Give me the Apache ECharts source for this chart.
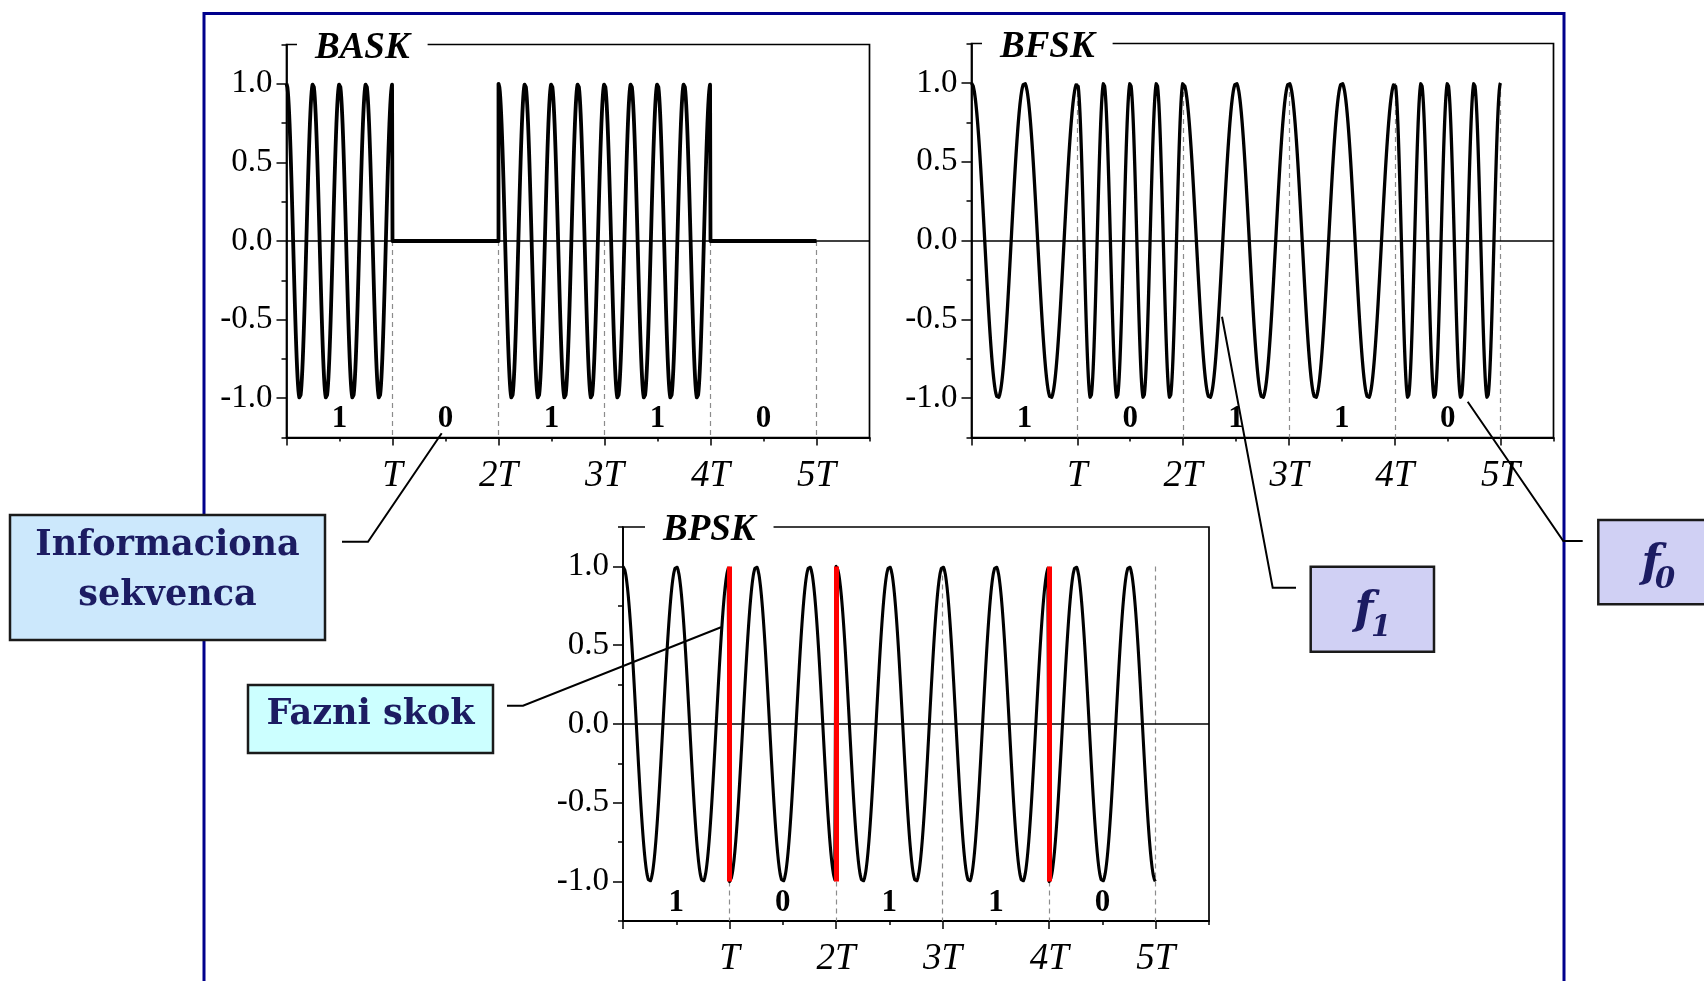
<!DOCTYPE html>
<html>
<head>
<meta charset="utf-8">
<title>BASK / BFSK / BPSK</title>
<script src="https://cdn.jsdelivr.net/npm/echarts@6/dist/echarts.min.js"></script>
<style>
  html, body { margin: 0; padding: 0; background: #fff; }
  #chart { width: 1704px; height: 981px; }
</style>
</head>
<body>
<div id="chart"></div>
<script>
// Information sequence sent in every panel, one value per bit interval T
const bits = [1, 0, 1, 1, 0];

// Time axis (in units of the bit interval T)
const periodTicks = [1, 2, 3, 4, 5];
const periodLabels = ['T', '2T', '3T', '4T', '5T'];
const halfPeriodTicks = [0.5, 1.5, 2.5, 3.5, 4.5, 5.5];

// Amplitude axis
const amplitudeTicks = [-1, -0.5, 0, 0.5, 1];
const amplitudeMinorTicks = [-1.25, -0.75, -0.25, 0.25, 0.75, 1.25];

// Carrier cycles per bit interval, indexed by the bit value [0, 1]
const askCyclesPerBit = [0, 4];
const fskCyclesPerBit = [4, 2];
const pskCyclesPerBit = [2, 2];
const pskPhaseSign = [-1, 1];

// Height at which the bit values are written inside each panel
const bitLabelLevel = -1.135;

// Drawing resolution of the carrier
const samplesPerBit = 240;

const SERIF = '"Liberation Serif", "Times New Roman", serif';
const CALLOUT_FONT = '"DejaVu Serif", serif';
const CALLOUT_INK = '#1c1c62';

function buildWave(valueAt) {
  const pts = [];
  bits.forEach((b, k) => {
    for (let j = 0; j <= samplesPerBit; j++) {
      const u = j / samplesPerBit;
      pts.push([k + u, valueAt(b, k + u, u)]);
    }
  });
  return pts;
}

const askWave = buildWave((b, t) => b ? Math.cos(2 * Math.PI * askCyclesPerBit[b] * t) : 0);
const fskWave = buildWave((b, t, u) => Math.cos(2 * Math.PI * fskCyclesPerBit[b] * u));
const pskWave = buildWave((b, t) => pskPhaseSign[b] * Math.cos(2 * Math.PI * pskCyclesPerBit[b] * t));

// Phase jumps of BPSK: wherever the bit changes
const pskJumps = [];
bits.forEach((b, k) => {
  if (k > 0 && b !== bits[k - 1]) {
    const before = pskPhaseSign[bits[k - 1]] * Math.cos(2 * Math.PI * pskCyclesPerBit[bits[k - 1]] * k);
    const after = pskPhaseSign[b] * Math.cos(2 * Math.PI * pskCyclesPerBit[b] * k);
    pskJumps.push({ coords: [[k, before], [k, after]] });
  }
});

const bitLabels = bits.map((b, k) => [k + 0.5, bitLabelLevel, b]);

function guideLines(fromLevel) {
  return periodTicks.map(p => ({ coords: [[p, fromLevel], [p, -1.25]] }));
}

const panels = [
  { name: 'BASK', grid: { left: 286.5, top: 44.5, width: 583, height: 393 }, wave: askWave, width: 3.8, guideFrom: 0, titleLeft: 297, titleTop: 29 },
  { name: 'BFSK', grid: { left: 971.5, top: 43.5, width: 582, height: 394 }, wave: fskWave, width: 3.3, guideFrom: 1, titleLeft: 982, titleTop: 28 },
  { name: 'BPSK', grid: { left: 623, top: 527, width: 586, height: 394 }, wave: pskWave, width: 3.1, guideFrom: 1, titleLeft: 645, titleTop: 511 }
];

const grids = [], xAxes = [], yAxes = [], series = [], titles = [];

panels.forEach((p, gi) => {
  grids.push(Object.assign({
    show: true, borderColor: '#000', borderWidth: 1.7, backgroundColor: 'transparent',
    containLabel: false, outerBoundsMode: 'none'
  }, p.grid));

  const xMajor = xAxes.length;
  xAxes.push({
    gridIndex: gi, type: 'value', min: 0, max: 5.5, position: 'bottom',
    axisLine: { show: true, onZero: false, lineStyle: { color: '#000', width: 2 } },
    axisTick: { show: true, customValues: [0].concat(periodTicks), length: 8, lineStyle: { color: '#000', width: 1.5 } },
    axisLabel: {
      show: true, customValues: periodTicks, margin: 20,
      formatter: v => periodLabels[periodTicks.indexOf(v)] || '',
      color: '#000', fontFamily: SERIF, fontStyle: 'italic', fontSize: 37
    },
    splitLine: { show: false }
  });
  xAxes.push({
    gridIndex: gi, type: 'value', min: 0, max: 5.5, position: 'bottom',
    axisLine: { show: false, onZero: false },
    axisTick: { show: true, customValues: halfPeriodTicks, length: 4, lineStyle: { color: '#000', width: 1.5 } },
    axisLabel: { show: false },
    splitLine: { show: false }
  });

  const yMajor = yAxes.length;
  yAxes.push({
    gridIndex: gi, type: 'value', min: -1.25, max: 1.25, position: 'left',
    axisLine: { show: true, onZero: false, lineStyle: { color: '#000', width: 1.7 } },
    axisTick: { show: true, customValues: amplitudeTicks, length: 10, lineStyle: { color: '#000', width: 1.5 } },
    axisLabel: {
      show: true, customValues: amplitudeTicks, margin: 14,
      formatter: v => v.toFixed(1),
      color: '#000', fontFamily: SERIF, fontSize: 33
    },
    splitLine: { show: false }
  });
  yAxes.push({
    gridIndex: gi, type: 'value', min: -1.25, max: 1.25, position: 'left',
    axisLine: { show: false, onZero: false },
    axisTick: { show: true, customValues: amplitudeMinorTicks, length: 5, lineStyle: { color: '#000', width: 1.5 } },
    axisLabel: { show: false },
    splitLine: { show: false }
  });

  // dashed bit boundaries
  series.push({
    type: 'lines', coordinateSystem: 'cartesian2d', xAxisIndex: xMajor, yAxisIndex: yMajor,
    data: guideLines(p.guideFrom), silent: true, z: 1,
    lineStyle: { color: '#8c8c8c', width: 1.2, type: [5, 4], opacity: 1 }
  });

  // modulated carrier
  series.push({
    type: 'line', name: p.name, xAxisIndex: xMajor, yAxisIndex: yMajor,
    data: p.wave, showSymbol: false, symbol: 'none', silent: true, z: 3,
    lineStyle: { color: '#000', width: p.width, join: 'round' },
    markLine: {
      silent: true, symbol: 'none', label: { show: false },
      lineStyle: { color: '#000', width: 1.6, type: 'solid' },
      data: [{ yAxis: 0 }]
    }
  });

  // bit values
  series.push({
    type: 'scatter', xAxisIndex: xMajor, yAxisIndex: yMajor, silent: true, z: 4,
    data: bitLabels, symbolSize: 0, itemStyle: { color: '#000', opacity: 1 },
    label: {
      show: true, position: [0, 0], align: 'center', verticalAlign: 'middle',
      formatter: d => String(d.value[2]),
      color: '#000', opacity: 1, textBorderWidth: 0,
      fontFamily: SERIF, fontWeight: 'bold', fontSize: 31
    }
  });

  if (p.name === 'BPSK') {
    series.push({
      type: 'lines', coordinateSystem: 'cartesian2d', xAxisIndex: xMajor, yAxisIndex: yMajor,
      data: pskJumps, silent: true, z: 5,
      lineStyle: { color: '#ff0000', width: 5, type: 'solid', opacity: 1 }
    });
  }

  titles.push({
    text: p.name, left: p.titleLeft, top: p.titleTop,
    backgroundColor: '#fff', padding: [0, 18],
    textStyle: { fontFamily: SERIF, fontStyle: 'italic', fontWeight: 'bold', fontSize: 37, color: '#000', lineHeight: 38 }
  });
});

function box(x, y, w, h, fill) {
  return { type: 'rect', z: 20, silent: true, shape: { x, y, width: w, height: h },
    style: { fill, stroke: '#1a1a1a', lineWidth: 2.5 } };
}
function label(text, x, y, size, italic) {
  return { type: 'text', z: 21, silent: true, x, y,
    style: { text, font: (italic ? 'italic ' : '') + 'bold ' + size + 'px ' + CALLOUT_FONT,
      fill: CALLOUT_INK, align: 'center', verticalAlign: 'middle', textAlign: 'center', textVerticalAlign: 'middle' } };
}
function leader(points) {
  return { type: 'polyline', z: 15, silent: true, shape: { points },
    style: { stroke: '#000', lineWidth: 2, fill: null } };
}

const graphics = [
  { type: 'rect', z: 0, silent: true, shape: { x: 204, y: 13.5, width: 1360, height: 1010 },
    style: { fill: null, stroke: '#00008c', lineWidth: 3 } },

  leader([[342, 541.7], [368, 541.7], [441.7, 433.3]]),
  box(10, 515, 315, 125, '#cce8fc'),
  label('Informaciona', 167.5, 546, 35, false),
  label('sekvenca', 167.5, 596, 35, false),

  leader([[507, 705.7], [523, 705.7], [721, 627.3]]),
  box(248, 685, 245, 68, '#ccffff'),
  label('Fazni skok', 370.5, 715, 35, false),

  leader([[1296, 587.7], [1272.7, 587.7], [1222, 316.7]]),
  box(1310.7, 566.7, 123.3, 85, '#d0d0f4'),
  label('f', 1364, 612, 44, true),
  label('1', 1381, 628, 29, true),

  leader([[1582.7, 541], [1563.3, 541], [1467.7, 401.7]]),
  box(1598.3, 520, 130, 84.3, '#d0d0f4'),
  label('f', 1651, 565, 44, true),
  label('0', 1665, 580, 29, true)
];

const chart = echarts.init(document.getElementById('chart'), null, { renderer: 'canvas' });
chart.setOption({
  animation: false,
  backgroundColor: '#fff',
  title: titles,
  grid: grids,
  xAxis: xAxes,
  yAxis: yAxes,
  series,
  graphic: graphics
});
</script>
</body>
</html>
